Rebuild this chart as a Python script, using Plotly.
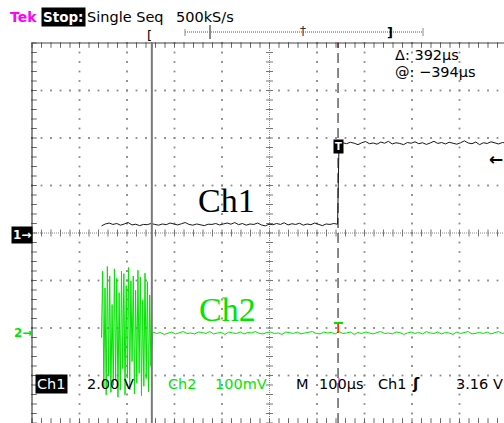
import numpy as np
import plotly.graph_objects as go

W, H = 504, 423
DIV = 47.5            # pixels per division
X0, Y0 = 32, 43       # graticule top-left pixel

# ---- scope settings (from the readout) ----
time_scale = 100.0    # us/div
ch1_scale = 2.0       # V/div
ch2_scale = 100.0     # mV/div
trig_pos_div = 6.463  # trigger position, divisions from left edge
ch1_offset_div = 0.0
ch2_offset_div = -2.105
trig_level = 3.16     # V
cursor1_t = -394      # us
cursor_delta = 392    # us

# ---- waveform data ----
ch1_low_v = [0.30, 0.38, 0.42, 0.36, 0.40, 0.33, 0.38, 0.44, 0.34, 0.37, 0.31, 0.36,
             0.35, 0.40, 0.36, 0.33, 0.38, 0.35, 0.42, 0.37, 0.34, 0.39, 0.44, 0.36,
             0.33, 0.38, 0.35, 0.31, 0.37, 0.36, 0.40, 0.34, 0.38, 0.42, 0.37, 0.44,
             0.35, 0.40, 0.33, 0.38, 0.36, 0.42, 0.34, 0.30, 0.37, 0.35, 0.40, 0.36,
             0.43, 0.34, 0.39, 0.36, 0.41, 0.33, 0.38, 0.35, 0.42, 0.37, 0.31, 0.38,
             0.36, 0.40, 0.37]
ch1_high_v = [3.74, 3.80, 3.76, 3.82, 3.78, 3.72, 3.80, 3.85, 3.76, 3.79, 3.74, 3.83,
              3.78, 3.86, 3.75, 3.80, 3.77, 3.72, 3.81, 3.78, 3.84, 3.76, 3.80, 3.73,
              3.79, 3.86, 3.77, 3.81, 3.75, 3.82, 3.78, 3.74, 3.80, 3.88, 3.79, 3.76,
              3.83, 3.72, 3.80, 3.77, 3.84, 3.78, 3.75, 3.81, 3.79]
ch2_burst_mv = [-10, 130, -115, 95, -130, 140, -90, 120, -125, 60, -110, 135, -100, 115,
                -135, 85, -120, 130, -75, 125, -130, 100, -95, 138, -120, 110, -60,
                120, -128, 90, -105, 132, -85, 118, -132, 70, -112, 126, -96, 108,
                -124, 80, -70]
ch2_flat_mv = [2, -1, 1, -3, 0, 2, -2, 1, 3, -1, 0, -2, 2, 1, -1, 3, -2, 0, 1, -3, 2, 0,
               -1, 2, -2, 1, 0, 3, -1, -2, 1, 2, -1, 0, -3, 2, 1, -1, 2, -2, 0, 1, 3, -1,
               -2, 2, 0, 1, -2, 3, -1, 0, 2, -3, 1, -1, 2, 0, -2, 1, 3, -1, 0, -2, 2, 1,
               -3, 0, 2, -1, 1, -2, 3, 0, -1, 2, -2, 1, 0, -3, 2, -1, 1, 3, -2, 0, 1, -1,
               2, -2, 0, 3, -1, 1]

ch1_t = np.concatenate([np.linspace(-500, -3, len(ch1_low_v)),
                        np.linspace(0, 352, len(ch1_high_v))])
ch1_v = np.array(ch1_low_v + ch1_high_v)
ch2_t = np.concatenate([np.linspace(-500, -396, len(ch2_burst_mv)),
                        np.linspace(-392, 352, len(ch2_flat_mv))])
ch2_mv = np.array(ch2_burst_mv + ch2_flat_mv)


def tx(t):
    return trig_pos_div + np.asarray(t) / time_scale


def px(x):
    return x / W


def py(y):
    return 1 - y / H


GREEN = "#00e400"
FONT = "DejaVu Sans"
FS = 14.5

fig = go.Figure()

# ---- graticule dots ----
gx, gy = [], []
for xv in range(1, 10):
    if xv == 5:
        continue
    for k in range(41):
        gx.append(xv); gy.append(-4 + 0.2 * k)
for yv in range(-3, 4):
    if yv == 0:
        continue
    for k in range(51):
        gx.append(0.2 * k); gy.append(yv)
fig.add_trace(go.Scatter(x=gx, y=gy, mode="markers", hoverinfo="skip",
                         marker=dict(symbol="square", size=1.8, color="#8a8a8a",
                                     line=dict(width=0))))
# centre-line ticks
fig.add_trace(go.Scatter(x=[0.2 * k for k in range(51)], y=[0] * 51, mode="markers",
                         hoverinfo="skip",
                         marker=dict(symbol="line-ns", size=5,
                                     line=dict(width=1, color="#777"))))
fig.add_trace(go.Scatter(x=[5] * 40, y=[-4 + 0.2 * k for k in range(40)], mode="markers",
                         hoverinfo="skip",
                         marker=dict(symbol="line-ew", size=5,
                                     line=dict(width=1, color="#777"))))
# border ticks
off = 2 / DIV
fig.add_trace(go.Scatter(x=[0.2 * k for k in range(51)] * 2,
                         y=[4 - off] * 51 + [-4 + off] * 51, mode="markers",
                         hoverinfo="skip",
                         marker=dict(symbol="line-ns", size=4,
                                     line=dict(width=1, color="#666"))))
fig.add_trace(go.Scatter(x=[off] * 41, y=[-4 + 0.2 * k for k in range(41)], mode="markers",
                         hoverinfo="skip",
                         marker=dict(symbol="line-ew", size=4,
                                     line=dict(width=1, color="#666"))))

# ---- waveforms ----
fig.add_trace(go.Scatter(x=tx(ch2_t), y=ch2_offset_div + ch2_mv / ch2_scale,
                         mode="lines", line=dict(color=GREEN, width=1),
                         hoverinfo="skip"))
fig.add_trace(go.Scatter(x=tx(ch1_t), y=ch1_offset_div + ch1_v / ch1_scale,
                         mode="lines", line=dict(color="#1a1a1a", width=1),
                         hoverinfo="skip"))

# cursor marks on the top border
c1x = tx(cursor1_t)
c2x = tx(cursor1_t + cursor_delta)
fig.add_trace(go.Scatter(x=[c1x, c2x], y=[4 - off, 4 - off], mode="markers",
                         hoverinfo="skip",
                         marker=dict(symbol="line-ns", size=4,
                                     line=dict(width=1, color="#e00000"))))

shapes = [
    # centre lines (dotted)
    dict(type="line", x0=0, x1=10, y0=0, y1=0, xref="x", yref="y", layer="below",
         line=dict(color="#888", width=1, dash="1px,1px")),
    dict(type="line", x0=5, x1=5, y0=-4, y1=4, xref="x", yref="y", layer="below",
         line=dict(color="#888", width=1, dash="1px,1px")),
    # borders
    dict(type="line", x0=0, x1=0, y0=-4, y1=4, xref="x", yref="y",
         line=dict(color="#222", width=1)),
    dict(type="line", x0=0, x1=10, y0=4, y1=4, xref="x", yref="y",
         line=dict(color="#444", width=1)),
    # cursors
    dict(type="line", x0=c1x, x1=c1x, y0=-4, y1=4, xref="x", yref="y",
         line=dict(color="#7a7a7a", width=2)),
    dict(type="line", x0=c2x, x1=c2x, y0=-4, y1=4, xref="x", yref="y",
         line=dict(color="#111", width=1, dash="10px,5px")),
    # record bar
    dict(type="line", x0=px(185), x1=px(423), y0=py(32), y1=py(32), xref="paper",
         yref="paper", line=dict(color="#555", width=1, dash="1px,1px")),
    dict(type="line", x0=px(185), x1=px(185), y0=py(29), y1=py(36), xref="paper",
         yref="paper", line=dict(color="#888", width=1)),
    dict(type="line", x0=px(210), x1=px(210), y0=py(25), y1=py(39), xref="paper",
         yref="paper", line=dict(color="#888", width=2)),
    dict(type="line", x0=px(423), x1=px(423), y0=py(28), y1=py(36), xref="paper",
         yref="paper", line=dict(color="#888", width=1)),
    # trigger mark in readout
    dict(type="line", x0=px(339), x1=px(339), y0=py(378), y1=py(388), xref="paper",
         yref="paper", line=dict(color="#ff00ff", width=1)),
    # small trigger marker on Ch2
    dict(type="line", x0=px(334), x1=px(343), y0=py(323), y1=py(323), xref="paper",
         yref="paper", line=dict(color=GREEN, width=2)),
    dict(type="line", x0=px(338.5), x1=px(338.5), y0=py(323), y1=py(333), xref="paper",
         yref="paper", line=dict(color="#ff3000", width=1)),
]


def txt(x, y, s, size=FS, color="black", bg=None, bold=False, family=FONT,
        xanchor="left", pad=1):
    return dict(x=px(x), y=py(y), xref="paper", yref="paper", text=s,
                showarrow=False, xanchor=xanchor, yanchor="middle",
                font=dict(family=family, size=size, color=color,
                          weight="bold" if bold else "normal"),
                bgcolor=bg, borderpad=pad)


ann = [
    txt(8, 17, "Tek", 14, "#ff00ff", bold=True),
    txt(41, 17, "Stop:", 13.5, "white", bg="black", bold=True),
    txt(86, 17, "Single Seq", FS, pad=0),
    txt(175, 17, "500kS/s", FS, pad=0),
    txt(146, 35, "[", 13, pad=0),
    txt(386, 32, "]", 13, bold=True, pad=0),
    txt(303, 31, "†", 12, "#333", xanchor="center", pad=0),
    txt(394, 55, f"Δ: {cursor_delta}µs", 14.5, pad=0),
    txt(394, 72, f"@: −{abs(cursor1_t)}µs", 14.5, pad=0),
    txt(226, 200, "Ch1", 34, "black", family="Liberation Serif", xanchor="center"),
    txt(227, 309, "Ch2", 34, GREEN, family="Liberation Serif", xanchor="center"),
    txt(11, 235, "1→", 12, "white", bg="black", bold=True),
    txt(12, 333, "2→", 12, GREEN, bold=True),
    dict(x=tx(0), y=1.82, xref="x", yref="y", text="T", showarrow=False,
         font=dict(family=FONT, size=10, color="white", weight="bold"),
         bgcolor="black", borderpad=1, xanchor="center", yanchor="middle"),
    txt(504, 159, "←", 17, bold=True, xanchor="right", pad=0),
    txt(35, 384, "Ch1", FS, "white", bg="black"),
    txt(85, 384, f"{ch1_scale:.2f} V", FS),
    txt(166, 384, "Ch2", FS, GREEN),
    txt(213, 384, f"{ch2_scale:.0f}mV", FS, GREEN),
    txt(294, 384, "M", FS),
    txt(317, 384, f"{time_scale:.0f}µs", FS),
    txt(376, 384, "Ch1", FS),
    txt(410, 384, "ʃ", 15, bold=True),
    txt(454, 384, f"{trig_level:.2f} V", FS),
]

fig.update_layout(
    width=W, height=H, margin=dict(l=0, r=0, t=0, b=0, pad=0),
    paper_bgcolor="white", plot_bgcolor="white", showlegend=False,
    xaxis=dict(range=[-X0 / DIV, (W - X0) / DIV], visible=False, fixedrange=True),
    yaxis=dict(range=[4 - (H - Y0) / DIV, 4 + Y0 / DIV], visible=False, fixedrange=True),
    shapes=shapes, annotations=ann,
)
fig.write_html("out.html", config={"displayModeBar": False},
               post_script="document.body.style.margin='0';"
                           "document.body.style.overflow='hidden';")
